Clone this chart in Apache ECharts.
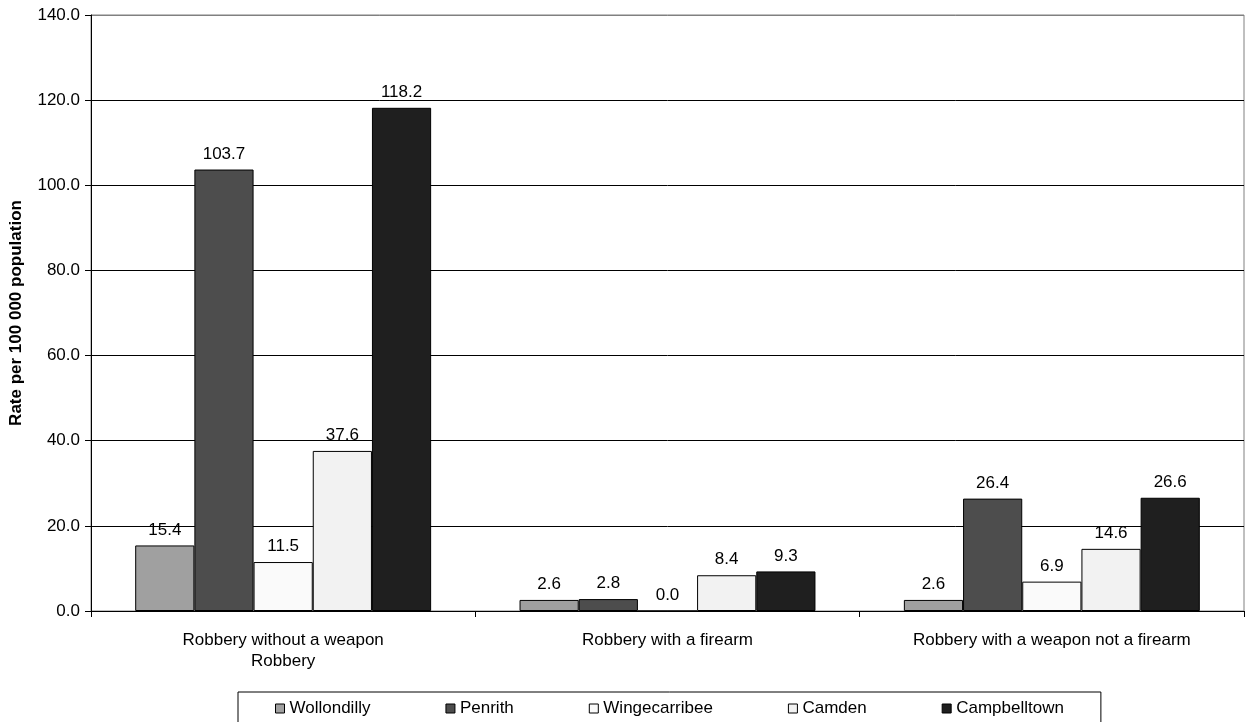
<!DOCTYPE html>
<html>
<head>
<meta charset="utf-8">
<script src="https://cdn.jsdelivr.net/npm/echarts@6/dist/echarts.min.js"></script>
<style>html,body{margin:0;padding:0;background:#fff;}#c{width:1245px;height:722px;}</style>
</head>
<body>
<div id="c"></div>
<script>
const categories = ['Robbery without a weapon\nRobbery', 'Robbery with a firearm', 'Robbery with a weapon not a firearm'];
const seriesNames = ['Wollondilly', 'Penrith', 'Wingecarribee', 'Camden', 'Campbelltown'];
const wollondilly = [15.4, 2.6, 2.6];
const penrith = [103.7, 2.8, 26.4];
const wingecarribee = [11.5, 0.0, 6.9];
const camden = [37.6, 8.4, 14.6];
const campbelltown = [118.2, 9.3, 26.6];
const seriesValues = [wollondilly, penrith, wingecarribee, camden, campbelltown];
const colors = ['#a0a0a0', '#4d4d4d', '#fafafa', '#f2f2f2', '#1f1f1f'];
const yMin = 0, yMax = 140, yStep = 20;

const FONT = "'Liberation Sans', Arial, sans-serif";
const FS = 17;
const chart = echarts.init(document.getElementById('c'));
chart.setOption({
  animation: false,
  backgroundColor: '#fff',
  textStyle: { fontFamily: FONT, color: '#000' },
  grid: { left: 89, right: 1, top: 15, bottom: 111, show: true, borderColor: '#808080', borderWidth: 1, backgroundColor: '#fff' },
  legend: {
    left: 238, top: 692,
    padding: [8, 37, 12, 37],
    borderColor: '#000', borderWidth: 1,
    itemGap: 75, itemWidth: 9, itemHeight: 9,
    icon: 'rect',
    itemStyle: { borderWidth: 1, borderColor: '#000' },
    textStyle: { fontFamily: FONT, fontSize: FS, color: '#000' },
    data: seriesNames
  },
  xAxis: {
    type: 'category',
    data: categories,
    axisLine: { lineStyle: { color: '#000', width: 1 } },
    axisTick: { show: true, length: 6, lineStyle: { color: '#000' } },
    axisLabel: { fontFamily: FONT, fontSize: FS, color: '#000', margin: 19, lineHeight: 21, interval: 0 }
  },
  yAxis: {
    type: 'value',
    min: yMin, max: yMax, interval: yStep,
    name: 'Rate per 100 000 population',
    nameLocation: 'middle', nameRotate: 90, nameGap: 66,
    nameTextStyle: { fontFamily: FONT, fontSize: FS, fontWeight: 'bold', color: '#000' },
    axisLine: { show: true, lineStyle: { color: '#000', width: 1 } },
    axisTick: { show: true, length: 6, lineStyle: { color: '#000' } },
    axisLabel: { fontFamily: FONT, fontSize: FS, color: '#000', margin: 11, formatter: v => v.toFixed(1) },
    splitLine: { show: true, lineStyle: { color: ['#000', '#000', '#000', '#000', '#000', '#000', '#000', '#808080'], width: 1 } }
  },
  series: seriesNames.map((n, i) => ({
    name: n,
    type: 'bar',
    data: seriesValues[i],
    barGap: '0%',
    barCategoryGap: '23%',
    itemStyle: { color: colors[i], borderColor: '#000', borderWidth: 1 },
    label: { show: true, position: 'top', distance: 7, fontFamily: FONT, fontSize: FS, color: '#000', formatter: p => p.value.toFixed(1) }
  }))
});
</script>
</body>
</html>
